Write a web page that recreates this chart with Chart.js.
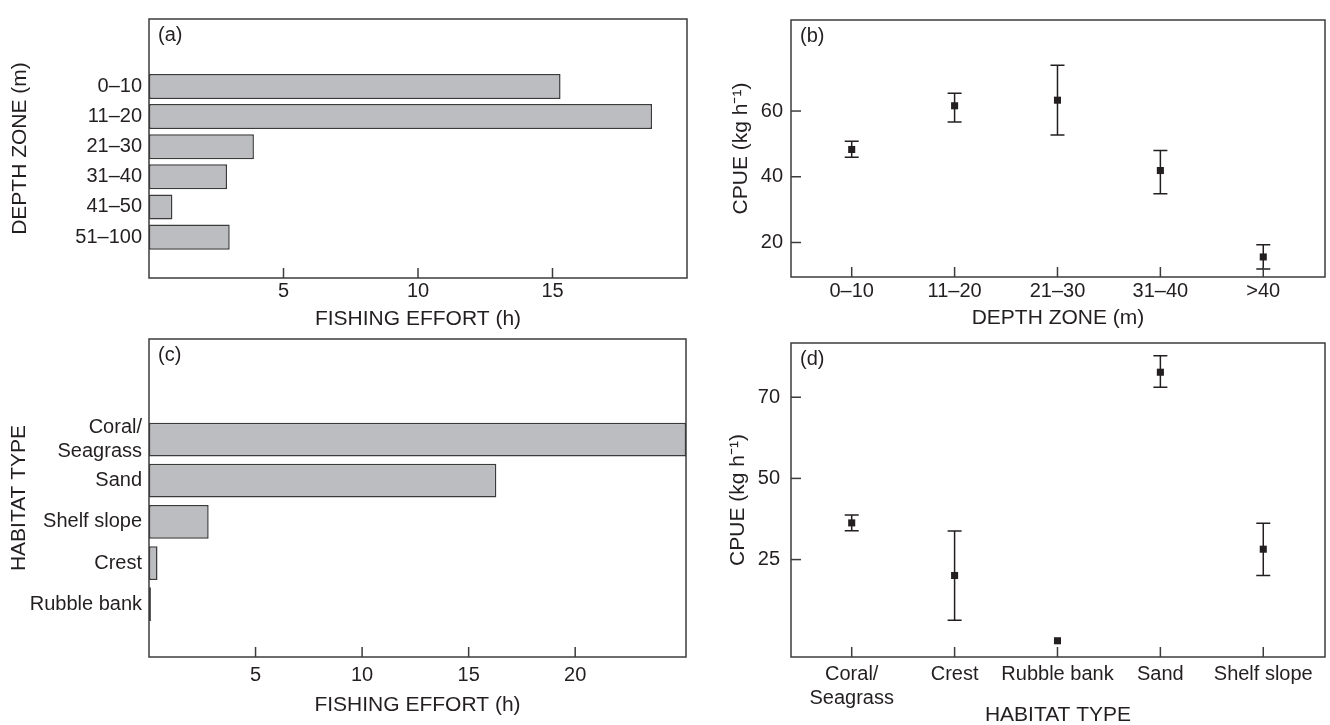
<!DOCTYPE html>
<html>
<head>
<meta charset="utf-8">
<script src="https://cdn.jsdelivr.net/npm/chart.js@4.4.1/dist/chart.umd.min.js"></script>
<style>
  html, body { margin: 0; padding: 0; background: #fff; overflow: hidden; }
  body { width: 1330px; height: 725px; position: relative; }
  .panel { position: absolute; }
</style>
</head>
<body>
<div class="panel" style="left:0;top:0;width:700px;height:340px"><canvas id="chartA"></canvas></div>
<div class="panel" style="left:690px;top:0;width:640px;height:340px"><canvas id="chartB"></canvas></div>
<div class="panel" style="left:0;top:320px;width:700px;height:405px"><canvas id="chartC"></canvas></div>
<div class="panel" style="left:690px;top:320px;width:640px;height:410px"><canvas id="chartD"></canvas></div>
<script>
// (a) fishing effort by depth zone
const depthZones = ['0–10', '11–20', '21–30', '31–40', '41–50', '51–100'];
const effortDepth = [15.3, 18.7, 3.9, 2.9, 0.87, 3.0];
const effortDepthTicks = [5, 10, 15];

// (b) CPUE by depth zone, with error bar ends
const cpueZones = ['0–10', '11–20', '21–30', '31–40', '>40'];
const cpueDepth = [48.3, 61.6, 63.3, 41.9, 15.6];
const cpueDepthHigh = [50.8, 65.4, 73.9, 48.0, 19.3];
const cpueDepthLow = [45.9, 56.7, 52.7, 34.8, 11.9];
const cpueDepthTicks = [20, 40, 60];

// (c) fishing effort by habitat
const habitats = [['Coral/', 'Seagrass'], 'Sand', 'Shelf slope', 'Crest', 'Rubble bank'];
const effortHabitat = [25.2, 16.3, 2.8, 0.4, 0.09];
const effortHabitatTicks = [5, 10, 15, 20];

// (d) CPUE by habitat
const cpueHabitats = [['Coral/', 'Seagrass'], 'Crest', 'Rubble bank', 'Sand', 'Shelf slope'];
const cpueHabitat = [36.3, 20.1, 0, 82.7, 28.2];
const cpueHabitatHigh = [38.7, 33.8, null, 87.8, 36.2];
const cpueHabitatLow = [33.9, 6.3, null, 78.1, 20.1];
const cpueHabitatTickValues = [25, 50, 75];
const cpueHabitatTickLabels = ['25', '50', '70']; // as printed in the figure

const INK = '#231f20';
const FONT = '"Liberation Sans", Arial, Helvetica, sans-serif';
Chart.defaults.font.family = FONT;
Chart.defaults.color = INK;
Chart.defaults.animation = false;

// box around the plot, inward tick marks, panel letter and error bars
const framePlugin = {
  id: 'frame',
  beforeDatasetsDraw(chart) {
    const ds = chart.data.datasets[0];
    if (!ds.errHigh) return;
    const { ctx } = chart;
    const xs = chart.scales.x, ys = chart.scales.y;
    ctx.save();
    ctx.strokeStyle = INK;
    ctx.lineWidth = 1.5;
    ds.errHigh.forEach((hi, i) => {
      const lo = ds.errLow[i];
      if (hi == null || lo == null) return;
      const x = xs.getPixelForValue(i);
      const y1 = ys.getPixelForValue(hi), y2 = ys.getPixelForValue(lo);
      ctx.beginPath();
      ctx.moveTo(x, y1); ctx.lineTo(x, y2);
      ctx.moveTo(x - 7, y1); ctx.lineTo(x + 7, y1);
      ctx.moveTo(x - 7, y2); ctx.lineTo(x + 7, y2);
      ctx.stroke();
    });
    ctx.restore();
  },
  afterDraw(chart, args, opts) {
    const { ctx, chartArea: a } = chart;
    ctx.save();
    ctx.strokeStyle = '#3c3c3c';
    ctx.lineWidth = 1.5;
    ctx.strokeRect(a.left, a.top, a.right - a.left, a.bottom - a.top);
    (opts.tickAxes || []).forEach(id => {
      const s = chart.scales[id];
      s.ticks.forEach(t => {
        const p = s.getPixelForValue(t.value);
        ctx.beginPath();
        if (s.isHorizontal()) { ctx.moveTo(p, a.bottom); ctx.lineTo(p, a.bottom - 10); }
        else { ctx.moveTo(a.left, p); ctx.lineTo(a.left + 10, p); }
        ctx.stroke();
      });
    });
    ctx.font = '20px ' + FONT;
    ctx.fillStyle = INK;
    ctx.textBaseline = 'middle';
    ctx.fillText(opts.label, a.left + 9, a.top + 16);
    ctx.restore();
  }
};

const tickFont = { size: 20 };
const titleFont = { size: 21 };
const noGrid = { display: false, drawTicks: false };

function effortChart(id, cats, values, ticks, opt) {
  return new Chart(document.getElementById(id), {
    type: 'bar',
    data: {
      datasets: [{
        data: values.map((v, i) => ({ x: v, y: i })),
        backgroundColor: '#bcbdc0',
        borderColor: '#3a3a3a',
        borderWidth: 1.5,
        borderSkipped: false,
        barPercentage: opt.barPct,
        categoryPercentage: 1
      }]
    },
    options: {
      indexAxis: 'y',
      responsive: true,
      maintainAspectRatio: false,
      layout: { padding: { top: opt.top, right: opt.right, left: 0, bottom: 0 } },
      plugins: {
        legend: { display: false },
        tooltip: { enabled: false },
        frame: { label: opt.label, tickAxes: ['x'] }
      },
      scales: {
        x: {
          type: 'linear', min: 0, max: opt.xMax,
          grid: noGrid, border: { display: false },
          afterBuildTicks: s => { s.ticks = ticks.map(v => ({ value: v })); },
          afterFit: s => { s.height = opt.xHeight; },
          ticks: { font: tickFont, padding: opt.xPad, maxRotation: 0, autoSkip: false },
          title: { display: true, text: 'FISHING EFFORT (h)', font: titleFont, padding: { top: 0, bottom: opt.xTitlePad } }
        },
        y: {
          type: 'linear', reverse: true, min: opt.yMin, max: opt.yMax,
          grid: noGrid, border: { display: false },
          afterBuildTicks: s => { s.ticks = cats.map((c, i) => ({ value: i })); },
          afterFit: s => { s.width = 149; },
          ticks: { font: tickFont, padding: 7, autoSkip: false, callback: v => cats[v] },
          title: { display: true, text: opt.yTitle, font: titleFont, padding: { top: opt.yTitlePad, bottom: 0 } }
        }
      }
    },
    plugins: [framePlugin]
  });
}

function cpueChart(id, cats, values, hi, lo, tickValues, tickLabels, opt) {
  return new Chart(document.getElementById(id), {
    type: 'scatter',
    data: {
      datasets: [{
        data: values.map((v, i) => ({ x: i, y: v })),
        errHigh: hi,
        errLow: lo,
        pointStyle: 'rect',
        pointRadius: 5,
        pointBorderWidth: 0,
        backgroundColor: INK,
        borderColor: INK
      }]
    },
    options: {
      responsive: true,
      maintainAspectRatio: false,
      layout: { padding: { top: opt.top, right: 2, left: 0, bottom: 0 } },
      plugins: {
        legend: { display: false },
        tooltip: { enabled: false },
        frame: { label: opt.label, tickAxes: ['x', 'y'] }
      },
      scales: {
        x: {
          type: 'linear', min: -0.59, max: 4.6,
          grid: noGrid, border: { display: false },
          afterBuildTicks: s => { s.ticks = cats.map((c, i) => ({ value: i })); },
          afterFit: s => { s.height = opt.xHeight; },
          ticks: { font: tickFont, padding: opt.xPad, maxRotation: 0, autoSkip: false, callback: v => cats[v] },
          title: { display: true, text: opt.xTitle, font: titleFont, padding: { top: 0, bottom: opt.xTitlePad } }
        },
        y: {
          type: 'linear', min: opt.yMin, max: opt.yMax,
          grid: noGrid, border: { display: false },
          afterBuildTicks: s => { s.ticks = tickValues.map(v => ({ value: v })); },
          afterFit: s => { s.width = 101; },
          ticks: {
            font: tickFont, padding: opt.yPad, autoSkip: false,
            callback: v => tickLabels[tickValues.indexOf(v)]
          },
          title: { display: true, text: 'CPUE (kg h⁻¹)', font: titleFont, padding: { top: opt.yTitlePad, bottom: 0 } }
        }
      }
    },
    plugins: [framePlugin]
  });
}

effortChart('chartA', depthZones, effortDepth, effortDepthTicks, {
  label: '(a)', top: 10, right: 13, xMax: 20, xHeight: 62, xPad: 1, xTitlePad: 8,
  yMin: -1.52, yMax: 5.64, yTitle: 'DEPTH ZONE (m)', yTitlePad: 8, barPct: 0.83
});

cpueChart('chartB', cpueZones, cpueDepth, cpueDepthHigh, cpueDepthLow, cpueDepthTicks,
  cpueDepthTicks.map(String), {
  label: '(b)', top: 9, xHeight: 63, xPad: 2, xTitlePad: 9, xTitle: 'DEPTH ZONE (m)',
  yMin: 9.5, yMax: 87.7, yPad: 8, yTitlePad: 39
});

effortChart('chartC', habitats, effortHabitat, effortHabitatTicks, {
  label: '(c)', top: 13, right: 14, xMax: 25.2, xHeight: 68, xPad: 6, xTitlePad: 7,
  yMin: -1.67, yMax: 4.51, yTitle: 'HABITAT TYPE', yTitlePad: 7, barPct: 0.82
});

cpueChart('chartD', cpueHabitats, cpueHabitat, cpueHabitatHigh, cpueHabitatLow,
  cpueHabitatTickValues, cpueHabitatTickLabels, {
  label: '(d)', top: 13, xHeight: 73, xPad: 5, xTitlePad: 2, xTitle: 'HABITAT TYPE',
  yMin: -5.0, yMax: 91.7, yPad: 11, yTitlePad: 36
});
</script>
</body>
</html>
